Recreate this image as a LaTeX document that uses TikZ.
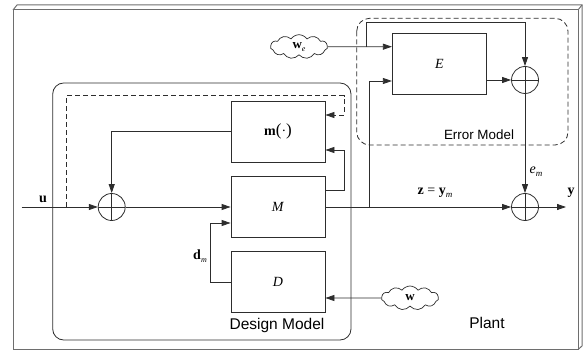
\documentclass[tikz,border=0pt]{standalone}
\usepackage{fontspec}
\setmainfont{Liberation Serif}
\newfontfamily\labfont{Liberation Sans}
\usetikzlibrary{shapes.symbols,arrows.meta}
\definecolor{ln}{RGB}{45,45,45}
\definecolor{fr}{RGB}{110,110,110}
\tikzset{
  blk/.style={draw=ln,line width=0.8pt,minimum width=94pt,minimum height=61pt,inner sep=0pt,font=\fontsize{14}{16}\selectfont},
  sumnode/.style={draw=ln,line width=0.8pt,circle,minimum size=27pt,inner sep=0pt,
    path picture={\draw[ln,line width=0.8pt] (path picture bounding box.north) -- (path picture bounding box.south)
      (path picture bounding box.west) -- (path picture bounding box.east);}},
  cl/.style={draw=ln,line width=0.7pt,cloud,cloud puffs=11,cloud puff arc=110,aspect=2.4,inner sep=0pt,minimum width=57pt,minimum height=24pt,font=\fontsize{13}{15}\selectfont},
  conn/.style={draw=ln,line width=0.8pt},
  arr/.style={conn,-{Triangle[length=9pt,width=6pt]}},
  lbl/.style={font=\fontsize{14}{16}\selectfont,inner sep=0pt},
}
\begin{document}
\begin{tikzpicture}[x=1pt,y=-1pt]
\useasboundingbox (0,0) rectangle (588,352);
% plant frame (bevelled)
\draw[fr,line width=1pt] (13,10) rectangle (578,349.5);
\draw[fr,line width=1pt] (13,10) -- (17,5) -- (582,5) -- (582,346) -- (578,349.5);
\draw[fr,line width=1pt] (578,10) -- (582,5);
% design model
\draw[ln,line width=0.8pt,rounded corners=11pt] (52.7,83) rectangle (351,340);
% error model
\draw[ln,line width=0.8pt,dashed,dash pattern=on 5pt off 3pt,rounded corners=13pt] (356.7,18.3) rectangle (568,145);
% blocks
\node[blk] (m) at (278,131.5) {\textbf{m}{\fontsize{17}{17}\selectfont(}·{\fontsize{17}{17}\selectfont)}};
\node[blk] (M) at (278,207) {\textit{M}};
\node[blk] (D) at (278,282.3) {\textit{D}};
\node[blk] (E) at (439.3,63.8) {\textit{E}};
\node[sumnode] (s1) at (111.7,207) {};
\node[sumnode] (s2) at (525,207) {};
\node[sumnode] (s3) at (525,80) {};
\node[cl] (we) at (299,46.7) {\textbf{w}\raisebox{-3pt}{\fontsize{8}{8}\selectfont\textit{e}}};
\node[cl] (w) at (410,298) {\textbf{w}};
% coordinates
\coordinate (uin) at (21.7,207);
\coordinate (dtap) at (66.7,207);
\coordinate (d1) at (66.7,95.7);
\coordinate (d2) at (344,95.7);
\coordinate (d3) at (344,115);
\coordinate (mo) at (111.7,131.7);
\coordinate (dm1) at (210,282);
\coordinate (dm2) at (210,223);
\coordinate (fb1) at (344,190);
\coordinate (fb2) at (344,150);
\coordinate (zb) at (369,207);
\coordinate (zb1) at (369,81);
\coordinate (wb) at (366,46.7);
\coordinate (wb1) at (366,22.7);
\coordinate (wb2) at (525,22.7);
\coordinate (yout) at (566,207);
% connectors
\draw[arr] (uin) -- (s1);
\draw[arr,dashed,dash pattern=on 5pt off 3pt] (dtap) -- (d1) -- (d2) -- (d3) -- (m.east |- d3);
\draw[arr] (m.west |- mo) -- (mo) -- (s1);
\draw[arr] (s1) -- (M);
\draw[arr] (D.west |- dm1) -- (dm1) -- (dm2) -- (M.west |- dm2);
\draw[arr] (M.east |- fb1) -- (fb1) -- (fb2) -- (m.east |- fb2);
\draw[arr] (M) -- (s2);
\draw[arr] (zb) -- (zb1) -- (E.west |- zb1);
\draw[arr] (we) -- (E.west |- we);
\draw[arr] (wb) -- (wb1) -- (wb2) -- (s3);
\draw[arr] (E.east |- s3) -- (s3);
\draw[arr] (s3) -- (s2);
\draw[arr] (s2) -- (yout);
\draw[arr] (w) -- (D.east |- w);
% labels
\node[lbl] (lu) at (43,199) {\textbf{u}};
\node[lbl] (ldm) at (200,256) {\textbf{d}\raisebox{-3pt}{\fontsize{8}{8}\selectfont\textit{m}}};
\node[lbl] (lz) at (435,193) {\textbf{z} = \textbf{y}\raisebox{-3pt}{\fontsize{9}{9}\selectfont\textit{m}}};
\node[lbl] (lem) at (536,172) {\textit{e}\raisebox{-3pt}{\fontsize{9}{9}\selectfont\textit{m}}};
\node[lbl] (ly) at (571,193) {\textbf{y}};
\node[font=\labfont\fontsize{13.4}{15}\selectfont,inner sep=0pt] (lem2) at (479,135) {Error Model};
\node[font=\labfont\fontsize{15.5}{17}\selectfont,inner sep=0pt] (ldes) at (277,325) {Design Model};
\node[font=\labfont\fontsize{15.5}{17}\selectfont,inner sep=0pt] (lpl) at (487,323) {Plant};
\end{tikzpicture}
\end{document}
